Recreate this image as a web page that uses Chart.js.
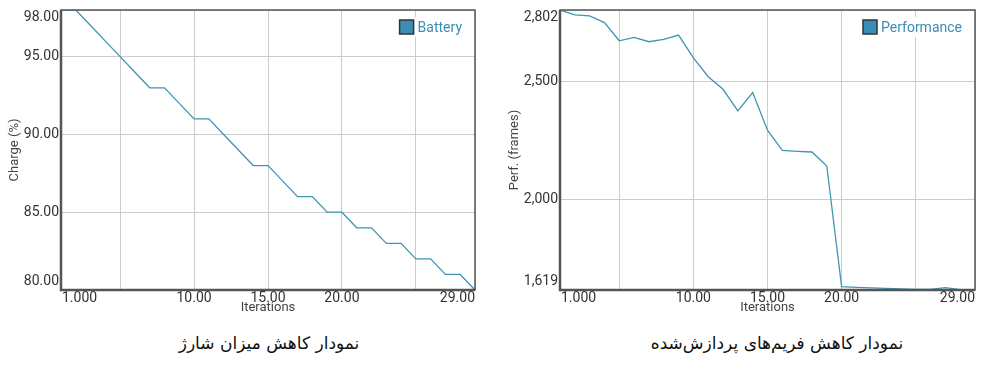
<!DOCTYPE html>
<html>
<head>
<meta charset="utf-8">
<script src="https://cdn.jsdelivr.net/npm/chart.js@4.4.0/dist/chart.umd.min.js"></script>
<style>
    body {
        margin: 0;
        background: #fff;
        width: 1000px;
        height: 369px;
        overflow: hidden;
        position: relative;
        font-family: Roboto, sans-serif;
    }
    .box { position: absolute; top: 0; width: 490px; height: 320px; }
    #leftBox { left: 0; }
    #rightBox { left: 500px; }
    .caption {
        position: absolute;
        top: 333px;
        font-family: "DejaVu Sans", sans-serif;
        font-size: 17px;
        color: #111;
        direction: rtl;
        white-space: nowrap;
        transform: translateX(-50%);
    }
</style>
</head>
<body>
<div class="box" id="leftBox"><canvas id="batteryChart"></canvas></div>
<div class="box" id="rightBox"><canvas id="perfChart"></canvas></div>
<div class="caption" style="left:269px">نمودار کاهش میزان شارژ</div>
<div class="caption" style="left:777px">نمودار کاهش فریم‌های پردازش‌شده</div>

<script>
// Datos
const iterations = [1, 2, 3, 4, 5, 6, 7, 8, 9, 10, 11, 12, 13, 14, 15, 16, 17, 18, 19, 20, 21, 22, 23, 24, 25, 26, 27, 28, 29];
const batteryValues = [98, 98, 97, 96, 95, 94, 93, 93, 92, 91, 91, 90, 89, 88, 88, 87, 86, 86, 85, 85, 84, 84, 83, 83, 82, 82, 81, 81, 80];
const performanceValues = [2802, 2781, 2777, 2749, 2672, 2686, 2668, 2678, 2696, 2600, 2520, 2467, 2376, 2453, 2294, 2209, 2205, 2202, 2143, 1633, 1630, 1628, 1626, 1624, 1622, 1622, 1629, 1621, 1619];

const xTickValues = [1, 5, 10, 15, 20, 25, 29];
const xTickLabels = ['1.000', '', '10.00', '15.00', '20.00', '', '29.00'];

const batteryTickValues = [80, 85, 90, 95, 98];
const batteryTickLabels = ['80.00', '85.00', '90.00', '95.00', '98.00'];

const perfTickValues = [1619, 2000, 2500, 2802];
const perfTickLabels = ['1,619', '2,000', '2,500', '2,802'];

const LINE_COLOR = '#3f95b2';
const LEGEND_COLOR = '#3a8db5';

// Plugin: marco, etiquetas de ejes y leyenda
const decorPlugin = {
    id: 'decor',
    afterDatasetsDraw(chart, args, opts) {
        const ctx = chart.ctx;
        const area = chart.chartArea;
        const label = chart.data.datasets[0].label;

        // Leyenda dentro del área
        ctx.save();
        ctx.font = '14px Roboto';
        const textW = ctx.measureText(label).width;
        const textRight = area.right - 13;
        const textLeft = textRight - textW;
        const boxSize = 14;
        const boxLeft = textLeft - 4 - boxSize;
        const cy = area.top + 17;
        ctx.fillStyle = '#fff';
        ctx.fillRect(boxLeft - 4, cy - 10, textRight - boxLeft + 8, 20);
        ctx.fillStyle = LEGEND_COLOR;
        ctx.fillRect(boxLeft, cy - boxSize / 2, boxSize, boxSize);
        ctx.strokeStyle = '#333';
        ctx.lineWidth = 1.5;
        ctx.strokeRect(boxLeft, cy - boxSize / 2, boxSize, boxSize);
        ctx.fillStyle = LEGEND_COLOR;
        ctx.textAlign = 'left';
        ctx.textBaseline = 'middle';
        ctx.fillText(label, textLeft, cy + 1);
        ctx.restore();
    },
    afterDraw(chart, args, opts) {
        const ctx = chart.ctx;
        const area = chart.chartArea;
        const xScale = chart.scales.x;
        const yScale = chart.scales.y;

        ctx.save();
        // Marco
        ctx.strokeStyle = '#555';
        ctx.lineWidth = 1.5;
        ctx.strokeRect(area.left, area.top, area.right - area.left, area.bottom - area.top);
        ctx.lineWidth = 2.5;
        ctx.beginPath();
        ctx.moveTo(area.left, area.top);
        ctx.lineTo(area.left, area.bottom);
        ctx.lineTo(area.right, area.bottom);
        ctx.stroke();

        // Etiquetas del eje Y
        ctx.font = '14px Roboto';
        ctx.fillStyle = '#333';
        ctx.textAlign = 'right';
        ctx.textBaseline = 'middle';
        opts.yValues.forEach((v, i) => {
            let y = yScale.getPixelForValue(v);
            y = Math.min(Math.max(y, area.top + 7), area.bottom - 9);
            ctx.fillText(opts.yLabels[i], area.left - 2, y);
        });

        // Etiquetas del eje X
        ctx.textBaseline = 'middle';
        xTickValues.forEach((v, i) => {
            const text = xTickLabels[i];
            if (!text) return;
            const w = ctx.measureText(text).width;
            let x = xScale.getPixelForValue(v) - w / 2;
            x = Math.min(Math.max(x, area.left + 1), area.right - w);
            ctx.textAlign = 'left';
            ctx.fillText(text, x, area.bottom + 8);
        });

        // Títulos de ejes
        ctx.font = '13px Roboto';
        ctx.fillStyle = '#444';
        ctx.textAlign = 'center';
        ctx.fillText('Iterations', (area.left + area.right) / 2, area.bottom + 18);
        ctx.translate(opts.titleX, (area.top + area.bottom) / 2);
        ctx.rotate(-Math.PI / 2);
        ctx.fillText(opts.yTitle, 0, 0);
        ctx.restore();
    }
};

function buildChart(canvasId, label, values, yMin, yMax, yTicks, yLabels, yTitle, yWidth, titleX) {
    const ctx = document.getElementById(canvasId).getContext('2d');
    return new Chart(ctx, {
        type: 'line',
        data: {
            datasets: [{
                label: label,
                data: iterations.map((it, i) => ({ x: it, y: values[i] })),
                borderColor: LINE_COLOR,
                borderWidth: 1.3,
                pointRadius: 0,
                tension: 0,
                fill: false
            }]
        },
        options: {
            responsive: true,
            maintainAspectRatio: false,
            animation: false,
            layout: {
                padding: { top: 10, right: 15, left: 0, bottom: 0 }
            },
            plugins: {
                legend: { display: false },
                tooltip: { enabled: false },
                decor: { yValues: yTicks, yLabels: yLabels, yTitle: yTitle, titleX: titleX }
            },
            scales: {
                x: {
                    type: 'linear',
                    min: 1,
                    max: 29,
                    afterBuildTicks: (scale) => {
                        scale.ticks = xTickValues.map(v => ({ value: v }));
                    },
                    afterFit: (scale) => { scale.height = 30; },
                    ticks: { display: false },
                    grid: { color: '#cccccc', lineWidth: 1, drawTicks: false },
                    border: { display: false }
                },
                y: {
                    type: 'linear',
                    min: yMin,
                    max: yMax,
                    afterBuildTicks: (scale) => {
                        scale.ticks = yTicks.map(v => ({ value: v }));
                    },
                    afterFit: (scale) => { scale.width = yWidth; },
                    ticks: { display: false },
                    grid: { color: '#cccccc', lineWidth: 1, drawTicks: false },
                    border: { display: false }
                }
            }
        },
        plugins: [decorPlugin]
    });
}

buildChart('batteryChart', 'Battery', batteryValues, 80, 98,
    batteryTickValues, batteryTickLabels, 'Charge (%)', 61, 15);
buildChart('perfChart', 'Performance', performanceValues, 1619, 2802,
    perfTickValues, perfTickLabels, 'Perf. (frames)', 60, 15);
</script>
</body>
</html>
